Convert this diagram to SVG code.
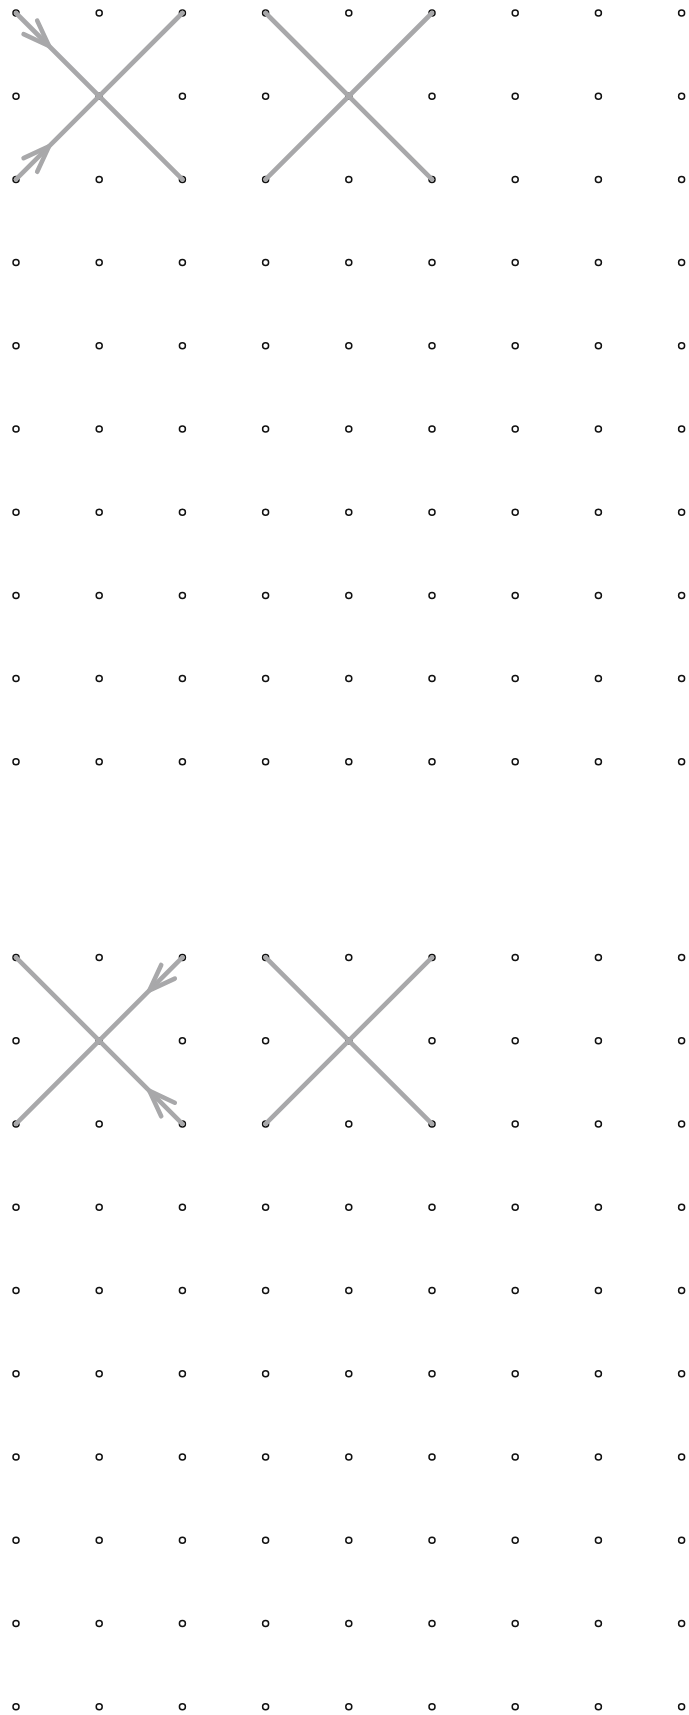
<svg xmlns="http://www.w3.org/2000/svg" xmlns:xlink="http://www.w3.org/1999/xlink" width="689" height="1715" viewBox="0 0 689 1715">
<style>
.dot{fill:#fff;stroke:#111;stroke-width:1.5}
.ln{fill:none;stroke:#a8a8aa;stroke-width:4.6;stroke-linecap:round;stroke-linejoin:round}
</style>
<defs>
<circle id="d" class="dot" r="3" cx="0" cy="0"/>
<marker id="chev" markerUnits="userSpaceOnUse" orient="auto" markerWidth="40" markerHeight="40" viewBox="-32 -16 40 32" refX="0" refY="0" overflow="visible">
<path d="M-26.3,-9.6 L0,0 L-26.3,9.6" fill="none" stroke="#a8a8aa" stroke-width="4.6" stroke-linecap="round" stroke-linejoin="round"/>
</marker>
</defs>
<rect width="689" height="1715" fill="#fff"/>
<g id="grid-top">
<g id="r0"><use href="#d" x="16" y="13"/><use href="#d" x="99.2" y="13"/><use href="#d" x="182.4" y="13"/><use href="#d" x="265.6" y="13"/><use href="#d" x="348.8" y="13"/><use href="#d" x="432" y="13"/><use href="#d" x="515.2" y="13"/><use href="#d" x="598.4" y="13"/><use href="#d" x="681.6" y="13"/></g>
<g id="r1"><use href="#d" x="16" y="96.2"/><use href="#d" x="99.2" y="96.2"/><use href="#d" x="182.4" y="96.2"/><use href="#d" x="265.6" y="96.2"/><use href="#d" x="348.8" y="96.2"/><use href="#d" x="432" y="96.2"/><use href="#d" x="515.2" y="96.2"/><use href="#d" x="598.4" y="96.2"/><use href="#d" x="681.6" y="96.2"/></g>
<g id="r2"><use href="#d" x="16" y="179.4"/><use href="#d" x="99.2" y="179.4"/><use href="#d" x="182.4" y="179.4"/><use href="#d" x="265.6" y="179.4"/><use href="#d" x="348.8" y="179.4"/><use href="#d" x="432" y="179.4"/><use href="#d" x="515.2" y="179.4"/><use href="#d" x="598.4" y="179.4"/><use href="#d" x="681.6" y="179.4"/></g>
<g id="r3"><use href="#d" x="16" y="262.6"/><use href="#d" x="99.2" y="262.6"/><use href="#d" x="182.4" y="262.6"/><use href="#d" x="265.6" y="262.6"/><use href="#d" x="348.8" y="262.6"/><use href="#d" x="432" y="262.6"/><use href="#d" x="515.2" y="262.6"/><use href="#d" x="598.4" y="262.6"/><use href="#d" x="681.6" y="262.6"/></g>
<g id="r4"><use href="#d" x="16" y="345.8"/><use href="#d" x="99.2" y="345.8"/><use href="#d" x="182.4" y="345.8"/><use href="#d" x="265.6" y="345.8"/><use href="#d" x="348.8" y="345.8"/><use href="#d" x="432" y="345.8"/><use href="#d" x="515.2" y="345.8"/><use href="#d" x="598.4" y="345.8"/><use href="#d" x="681.6" y="345.8"/></g>
<g id="r5"><use href="#d" x="16" y="429"/><use href="#d" x="99.2" y="429"/><use href="#d" x="182.4" y="429"/><use href="#d" x="265.6" y="429"/><use href="#d" x="348.8" y="429"/><use href="#d" x="432" y="429"/><use href="#d" x="515.2" y="429"/><use href="#d" x="598.4" y="429"/><use href="#d" x="681.6" y="429"/></g>
<g id="r6"><use href="#d" x="16" y="512.2"/><use href="#d" x="99.2" y="512.2"/><use href="#d" x="182.4" y="512.2"/><use href="#d" x="265.6" y="512.2"/><use href="#d" x="348.8" y="512.2"/><use href="#d" x="432" y="512.2"/><use href="#d" x="515.2" y="512.2"/><use href="#d" x="598.4" y="512.2"/><use href="#d" x="681.6" y="512.2"/></g>
<g id="r7"><use href="#d" x="16" y="595.4"/><use href="#d" x="99.2" y="595.4"/><use href="#d" x="182.4" y="595.4"/><use href="#d" x="265.6" y="595.4"/><use href="#d" x="348.8" y="595.4"/><use href="#d" x="432" y="595.4"/><use href="#d" x="515.2" y="595.4"/><use href="#d" x="598.4" y="595.4"/><use href="#d" x="681.6" y="595.4"/></g>
<g id="r8"><use href="#d" x="16" y="678.6"/><use href="#d" x="99.2" y="678.6"/><use href="#d" x="182.4" y="678.6"/><use href="#d" x="265.6" y="678.6"/><use href="#d" x="348.8" y="678.6"/><use href="#d" x="432" y="678.6"/><use href="#d" x="515.2" y="678.6"/><use href="#d" x="598.4" y="678.6"/><use href="#d" x="681.6" y="678.6"/></g>
<g id="r9"><use href="#d" x="16" y="761.8"/><use href="#d" x="99.2" y="761.8"/><use href="#d" x="182.4" y="761.8"/><use href="#d" x="265.6" y="761.8"/><use href="#d" x="348.8" y="761.8"/><use href="#d" x="432" y="761.8"/><use href="#d" x="515.2" y="761.8"/><use href="#d" x="598.4" y="761.8"/><use href="#d" x="681.6" y="761.8"/></g>
</g>
<g id="grid-bottom">
<g id="s0"><use href="#d" x="16" y="957.4"/><use href="#d" x="99.2" y="957.4"/><use href="#d" x="182.4" y="957.4"/><use href="#d" x="265.6" y="957.4"/><use href="#d" x="348.8" y="957.4"/><use href="#d" x="432" y="957.4"/><use href="#d" x="515.2" y="957.4"/><use href="#d" x="598.4" y="957.4"/><use href="#d" x="681.6" y="957.4"/></g>
<g id="s1"><use href="#d" x="16" y="1040.65"/><use href="#d" x="99.2" y="1040.65"/><use href="#d" x="182.4" y="1040.65"/><use href="#d" x="265.6" y="1040.65"/><use href="#d" x="348.8" y="1040.65"/><use href="#d" x="432" y="1040.65"/><use href="#d" x="515.2" y="1040.65"/><use href="#d" x="598.4" y="1040.65"/><use href="#d" x="681.6" y="1040.65"/></g>
<g id="s2"><use href="#d" x="16" y="1123.9"/><use href="#d" x="99.2" y="1123.9"/><use href="#d" x="182.4" y="1123.9"/><use href="#d" x="265.6" y="1123.9"/><use href="#d" x="348.8" y="1123.9"/><use href="#d" x="432" y="1123.9"/><use href="#d" x="515.2" y="1123.9"/><use href="#d" x="598.4" y="1123.9"/><use href="#d" x="681.6" y="1123.9"/></g>
<g id="s3"><use href="#d" x="16" y="1207.15"/><use href="#d" x="99.2" y="1207.15"/><use href="#d" x="182.4" y="1207.15"/><use href="#d" x="265.6" y="1207.15"/><use href="#d" x="348.8" y="1207.15"/><use href="#d" x="432" y="1207.15"/><use href="#d" x="515.2" y="1207.15"/><use href="#d" x="598.4" y="1207.15"/><use href="#d" x="681.6" y="1207.15"/></g>
<g id="s4"><use href="#d" x="16" y="1290.4"/><use href="#d" x="99.2" y="1290.4"/><use href="#d" x="182.4" y="1290.4"/><use href="#d" x="265.6" y="1290.4"/><use href="#d" x="348.8" y="1290.4"/><use href="#d" x="432" y="1290.4"/><use href="#d" x="515.2" y="1290.4"/><use href="#d" x="598.4" y="1290.4"/><use href="#d" x="681.6" y="1290.4"/></g>
<g id="s5"><use href="#d" x="16" y="1373.65"/><use href="#d" x="99.2" y="1373.65"/><use href="#d" x="182.4" y="1373.65"/><use href="#d" x="265.6" y="1373.65"/><use href="#d" x="348.8" y="1373.65"/><use href="#d" x="432" y="1373.65"/><use href="#d" x="515.2" y="1373.65"/><use href="#d" x="598.4" y="1373.65"/><use href="#d" x="681.6" y="1373.65"/></g>
<g id="s6"><use href="#d" x="16" y="1456.9"/><use href="#d" x="99.2" y="1456.9"/><use href="#d" x="182.4" y="1456.9"/><use href="#d" x="265.6" y="1456.9"/><use href="#d" x="348.8" y="1456.9"/><use href="#d" x="432" y="1456.9"/><use href="#d" x="515.2" y="1456.9"/><use href="#d" x="598.4" y="1456.9"/><use href="#d" x="681.6" y="1456.9"/></g>
<g id="s7"><use href="#d" x="16" y="1540.15"/><use href="#d" x="99.2" y="1540.15"/><use href="#d" x="182.4" y="1540.15"/><use href="#d" x="265.6" y="1540.15"/><use href="#d" x="348.8" y="1540.15"/><use href="#d" x="432" y="1540.15"/><use href="#d" x="515.2" y="1540.15"/><use href="#d" x="598.4" y="1540.15"/><use href="#d" x="681.6" y="1540.15"/></g>
<g id="s8"><use href="#d" x="16" y="1623.4"/><use href="#d" x="99.2" y="1623.4"/><use href="#d" x="182.4" y="1623.4"/><use href="#d" x="265.6" y="1623.4"/><use href="#d" x="348.8" y="1623.4"/><use href="#d" x="432" y="1623.4"/><use href="#d" x="515.2" y="1623.4"/><use href="#d" x="598.4" y="1623.4"/><use href="#d" x="681.6" y="1623.4"/></g>
<g id="s9"><use href="#d" x="16" y="1706.65"/><use href="#d" x="99.2" y="1706.65"/><use href="#d" x="182.4" y="1706.65"/><use href="#d" x="265.6" y="1706.65"/><use href="#d" x="348.8" y="1706.65"/><use href="#d" x="432" y="1706.65"/><use href="#d" x="515.2" y="1706.65"/><use href="#d" x="598.4" y="1706.65"/><use href="#d" x="681.6" y="1706.65"/></g>
</g>
<g id="connectors">
<path class="ln" d="M16,13 L49,46 L182.4,179.4" marker-mid="url(#chev)"/>
<path class="ln" d="M16,179.4 L49,146.4 L182.4,13" marker-mid="url(#chev)"/>
<path class="ln" d="M265.6,13 L432,179.4"/>
<path class="ln" d="M265.6,179.4 L432,13"/>
<path class="ln" d="M182.4,957.4 L149.4,990.4 L16,1123.9" marker-mid="url(#chev)"/>
<path class="ln" d="M182.4,1123.9 L149.4,1090.9 L16,957.4" marker-mid="url(#chev)"/>
<path class="ln" d="M265.6,957.4 L432,1123.9"/>
<path class="ln" d="M265.6,1123.9 L432,957.4"/>
</g>
</svg>
